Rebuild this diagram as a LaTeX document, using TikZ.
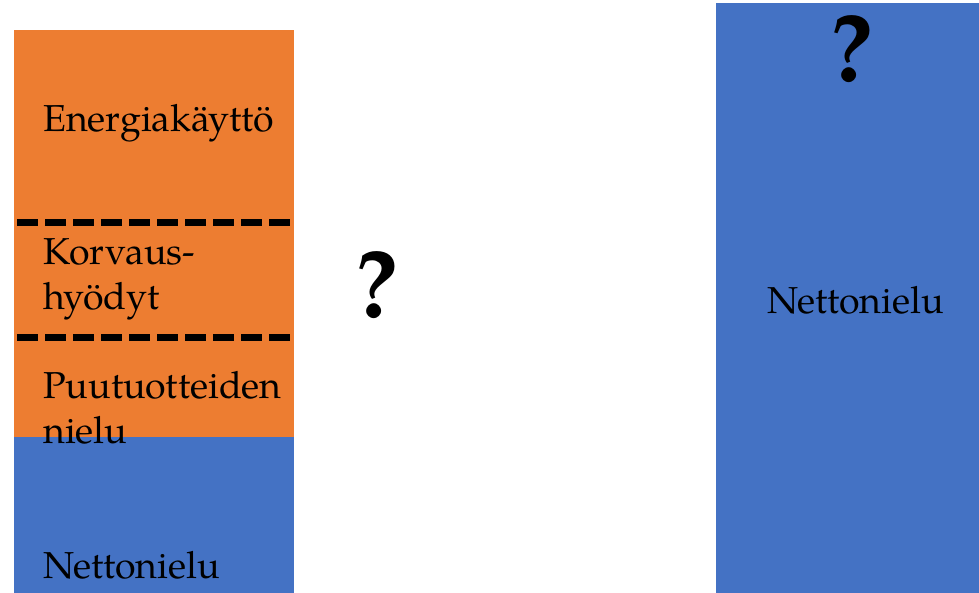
\documentclass[tikz,border=0pt]{standalone}
\usepackage{fontspec}
\setmainfont{TeX Gyre Pagella}
\definecolor{barorange}{HTML}{ED7D31}
\definecolor{barblue}{HTML}{4472C4}
\begin{document}
\begin{tikzpicture}[x=1pt,y=-1pt,
  lbl/.style={inner sep=0pt,anchor=base west,align=left,font=\fontsize{37.5}{45}\selectfont},
  qm/.style={inner sep=0pt,anchor=base,font=\fontsize{96}{100}\selectfont\bfseries},
  sep/.style={line width=7pt,dash pattern=on 21pt off 7pt}]
\useasboundingbox (0,0) rectangle (979,593);
\fill[barorange] (14,30) rectangle (294,437);
\fill[barblue] (14,437) rectangle (294,593);
\fill[barblue] (716,3) rectangle (979,593);
\coordinate (d1a) at (17,223); \coordinate (d1b) at (294,223);
\coordinate (d2a) at (17,337); \coordinate (d2b) at (294,337);
\draw[sep] (d1a) -- (d1b);
\draw[sep] (d2a) -- (d2b);
\node[lbl] (energia) at (43,132) {Energiakäyttö};
\node[lbl] (korvaus) at (43,310) {Korvaus-\\hyödyt};
\node[lbl] (puu) at (43,443) {Puutuotteiden\\nielu};
\node[lbl] (netto1) at (43,578) {Nettonielu};
\node[lbl] (netto2) at (767,313) {Nettonielu};
\node[qm] (q1) at (377,317) {?};
\node[qm] (q2) at (852,82) {?};
\end{tikzpicture}
\end{document}
